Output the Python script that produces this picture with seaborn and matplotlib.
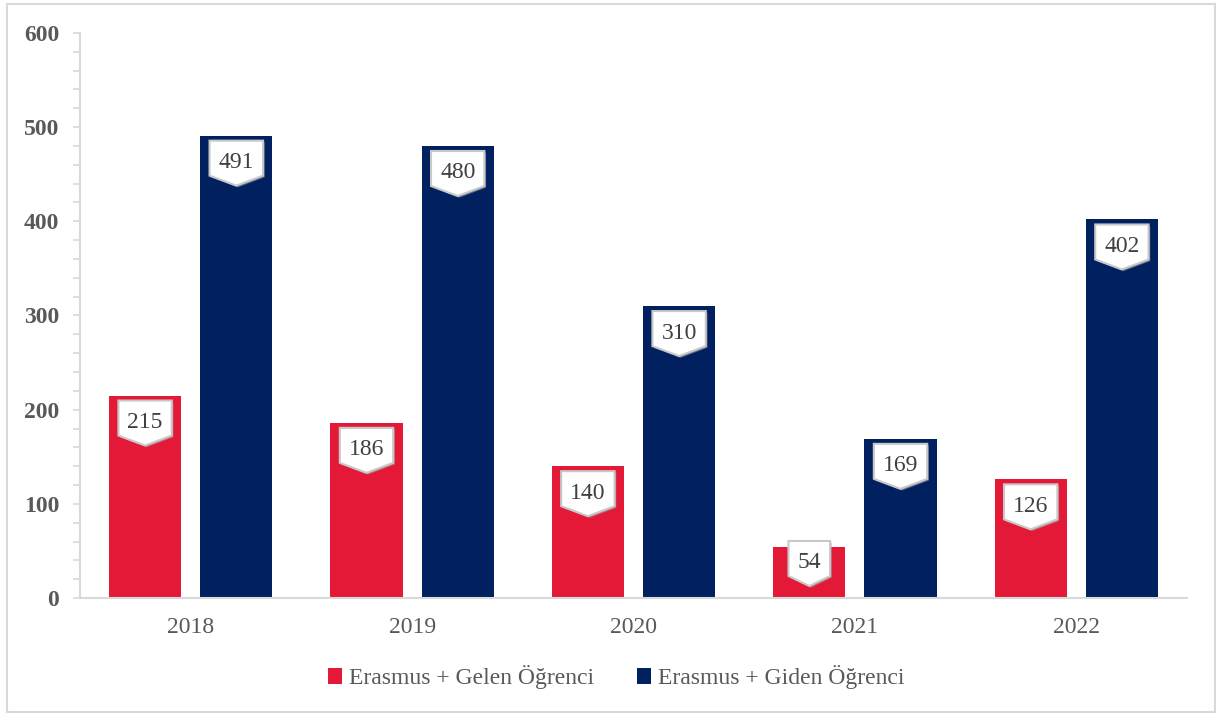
import numpy as np
import pandas as pd
import seaborn as sns
import matplotlib
matplotlib.use("Agg")
import matplotlib.pyplot as plt
from matplotlib.path import Path
from matplotlib.patches import Rectangle
import matplotlib.patheffects as pe

years = ["2018", "2019", "2020", "2021", "2022"]
gelen = [215, 186, 140, 54, 126]
giden = [491, 480, 310, 169, 402]
series_names = ["Erasmus + Gelen Öğrenci", "Erasmus + Giden Öğrenci"]
colors = ["#E31937", "#002060"]

df = pd.DataFrame({
    "year": years * 2,
    "value": gelen + giden,
    "series": [series_names[0]] * len(years) + [series_names[1]] * len(years),
})

sns.set_theme(style="white")
plt.rcParams["font.family"] = ["Liberation Serif", "DejaVu Serif"]

W, H, DPI = 1217, 714, 100
fig = plt.figure(figsize=(W / DPI, H / DPI), dpi=DPI)
ax_left, ax_right, ax_top, ax_bottom = 80, 1187, 33, 598
ax = fig.add_axes([ax_left / W, 1 - ax_bottom / H, (ax_right - ax_left) / W, (ax_bottom - ax_top) / H])

sns.barplot(data=df, x="year", y="value", hue="series", palette=colors,
            width=0.824, gap=0.21, ax=ax, saturation=1, legend=True, linewidth=0)

ax.set_xlim(-0.5, 4.5)
ax.set_ylim(0, 600)
ax.set_yticks(np.arange(0, 601, 100))
ax.set_yticks(np.arange(0, 601, 20), minor=True)
ax.set_xlabel("")
ax.set_ylabel("")

grid_c = "#D9D9D9"
for s in ["top", "right"]:
    ax.spines[s].set_visible(False)
for s in ["left", "bottom"]:
    ax.spines[s].set_color(grid_c)
    ax.spines[s].set_linewidth(1.5)

txt_c = "#595959"
FS = 17
ax.tick_params(axis="y", which="both", left=True, length=5, width=1.2, color=grid_c,
               direction="out", pad=10, labelsize=FS, labelcolor=txt_c)
ax.tick_params(axis="x", length=0, pad=14, labelsize=FS, labelcolor=txt_c)
for lab in ax.get_yticklabels():
    lab.set_fontweight("bold")

# data labels: pentagon callouts
px_per_unit = (ax_bottom - ax_top) / 600.0


def pentagon(x0, y0, width, height, mutation_size):
    cx = x0 + width / 2
    cy = y0 + height / 2 + 2
    half = width / 2 + 9
    top = cy + 20
    rb = cy - 15
    pt = cy - 25
    verts = [(cx - half, top), (cx + half, top), (cx + half, rb), (cx, pt),
             (cx - half, rb), (cx - half, top)]
    codes = [Path.MOVETO] + [Path.LINETO] * 4 + [Path.CLOSEPOLY]
    return Path(verts, codes)


values_by_series = [gelen, giden]
for container, vals in zip(ax.containers, values_by_series):
    for bar, v in zip(container.patches, vals):
        xc = bar.get_x() + bar.get_width() / 2
        off_px = 27
        y = v - off_px / px_per_unit
        y = max(y, 35 / px_per_unit)
        t = ax.text(xc, y, f"{v}", ha="center", va="center", fontsize=FS, color="#404040",
                    bbox=dict(boxstyle=pentagon, facecolor="white", edgecolor="#C8C8C8",
                              linewidth=1.5), zorder=5)
        t.get_bbox_patch().set_path_effects([pe.SimplePatchShadow(offset=(1.2, -1.2),
                                                                   shadow_rgbFace="#A0A0A0", alpha=0.6),
                                             pe.Normal()])

leg = ax.legend(loc="center", bbox_to_anchor=(616 / W, 1 - 677 / H), bbox_transform=fig.transFigure,
                ncol=2, frameon=False, fontsize=FS, handlelength=0.6, handleheight=0.65,
                handletextpad=0.3, columnspacing=1.8, title=None)
for t in leg.get_texts():
    t.set_color(txt_c)

fig.patches.append(Rectangle((7 / W, 1 - 712 / H), (1215 - 7) / W, (712 - 4) / H,
                             transform=fig.transFigure, fill=False, edgecolor=grid_c,
                             linewidth=1.5, zorder=0))

fig.savefig("out.png", dpi=DPI)
